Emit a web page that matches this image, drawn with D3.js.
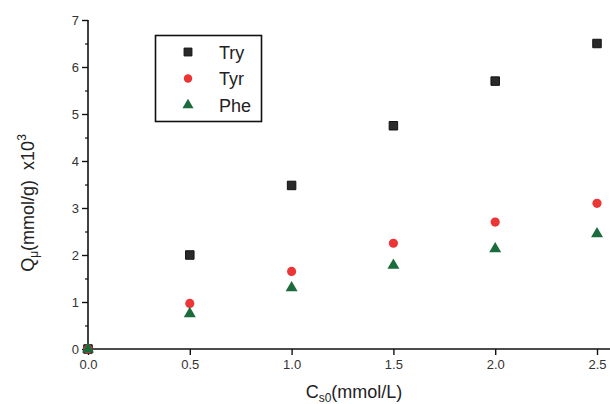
<!DOCTYPE html>
<html>
<head>
<meta charset="utf-8">
<script src="https://cdn.jsdelivr.net/npm/d3@7"></script>
<style>
  body { margin: 0; background: #fff; }
  svg { display: block; font-family: "Liberation Sans", Arial, sans-serif; }
</style>
</head>
<body>
<svg id="chart" width="610" height="404"></svg>
<script>
const conc = [0, 0.5, 1.0, 1.5, 2.0, 2.5]
const tryValues = [0, 2.0, 3.48, 4.75, 5.7, 6.5]
const tyrValues = [0, 0.97, 1.65, 2.25, 2.7, 3.1]
const pheValues = [0, 0.75, 1.3, 1.78, 2.13, 2.45]
const seriesNames = ["Try", "Tyr", "Phe"]
const xTicks = [0, 0.5, 1.0, 1.5, 2.0, 2.5]
const yTicks = [0, 1, 2, 3, 4, 5, 6, 7]
const yMinor = [0.5, 1.5, 2.5, 3.5, 4.5, 5.5, 6.5]

const series = [
  {name: seriesNames[0], values: tryValues, shape: d3.symbolSquare, size: 72, color: "#2a2a2a"},
  {name: seriesNames[1], values: tyrValues, shape: d3.symbolCircle, size: 66, color: "#ec3535"},
  {name: seriesNames[2], values: pheValues, shape: d3.symbolTriangle, size: 62, color: "#1b6b3c"}
]

const svg = d3.select("#chart")

let x = d3.scaleLinear().domain([0, 2.5]).range([88, 597])
let y = d3.scaleLinear().domain([0, 7]).range([349, 20])

// Axes lines
svg.append("line")
  .attr("x1", x(0)).attr("x2", 610)
  .attr("y1", y(0)).attr("y2", y(0))
  .attr("stroke", "#111").attr("stroke-width", 1.6)
svg.append("line")
  .attr("x1", x(0)).attr("x2", x(0))
  .attr("y1", y(0) + 1).attr("y2", y(7))
  .attr("stroke", "#111").attr("stroke-width", 1.6)

// X axis
let gx = svg.append("g")
  .attr("transform", `translate(0,${y(0)})`)
  .call(d3.axisBottom(x).tickValues(xTicks).tickFormat(d3.format(".1f")).tickSize(6).tickPadding(5))
gx.select(".domain").remove()
gx.selectAll("line").attr("stroke", "#111").attr("stroke-width", 1.4)
gx.selectAll("text").attr("font-size", 13).attr("fill", "#333")
  .attr("font-family", "Liberation Sans, Arial, sans-serif")

// Y axis
let gy = svg.append("g")
  .attr("transform", `translate(${x(0)},0)`)
  .call(d3.axisLeft(y).tickValues(yTicks).tickFormat(d3.format("d")).tickSize(6).tickPadding(3))
gy.select(".domain").remove()
gy.selectAll("line").attr("stroke", "#111").attr("stroke-width", 1.4)
gy.selectAll("text").attr("font-size", 13).attr("fill", "#333")
  .attr("font-family", "Liberation Sans, Arial, sans-serif")

let gyMinor = svg.append("g")
  .attr("transform", `translate(${x(0)},0)`)
  .call(d3.axisLeft(y).tickValues(yMinor).tickFormat("").tickSize(3))
gyMinor.select(".domain").remove()
gyMinor.selectAll("line").attr("stroke", "#111").attr("stroke-width", 1.2)

// Points
series.forEach(s => {
  svg.append("g").selectAll("path")
    .data(conc.map((c, i) => [c, s.values[i]]))
    .join("path")
      .attr("transform", d => `translate(${x(d[0])},${y(d[1])})`)
      .attr("d", d3.symbol(s.shape, s.size))
      .attr("fill", s.color)
      .attr("stroke", s.shape === d3.symbolSquare ? "#111" : "none")
      .attr("stroke-width", 1)
})

// Legend
let legend = svg.append("g")
legend.append("rect")
  .attr("x", 155.5).attr("y", 35.5)
  .attr("width", 106).attr("height", 86)
  .attr("fill", "none").attr("stroke", "#111").attr("stroke-width", 1.6)
series.forEach((s, i) => {
  let ly = 52 + i * 26.5
  legend.append("path")
    .attr("transform", `translate(188,${ly})`)
    .attr("d", d3.symbol(s.shape, s.size * 0.85))
    .attr("fill", s.color)
    .attr("stroke", s.shape === d3.symbolSquare ? "#111" : "none")
  legend.append("text")
    .attr("x", 219).attr("y", ly + 6.5)
    .attr("font-size", 18).attr("fill", "#222")
    .text(s.name)
})

// X label
let xl = svg.append("text")
  .attr("x", 354).attr("y", 398)
  .attr("text-anchor", "middle")
  .attr("font-size", 18).attr("fill", "#222")
xl.append("tspan").text("C")
xl.append("tspan").attr("font-size", 12).attr("dy", 4).text("s0")
xl.append("tspan").attr("dy", -4).text("(mmol/L)")

// Y label
let yl = svg.append("text")
  .attr("transform", "translate(34,203) rotate(-90)")
  .attr("text-anchor", "middle")
  .attr("font-size", 18).attr("fill", "#222")
  .style("white-space", "pre")
yl.append("tspan").text("Q")
yl.append("tspan").attr("font-size", 12).attr("dy", 4).text("μ")
yl.append("tspan").attr("dy", -4).text("(mmol/g)  x10")
yl.append("tspan").attr("font-size", 12).attr("dy", -8).text("3")
</script>
</body>
</html>
